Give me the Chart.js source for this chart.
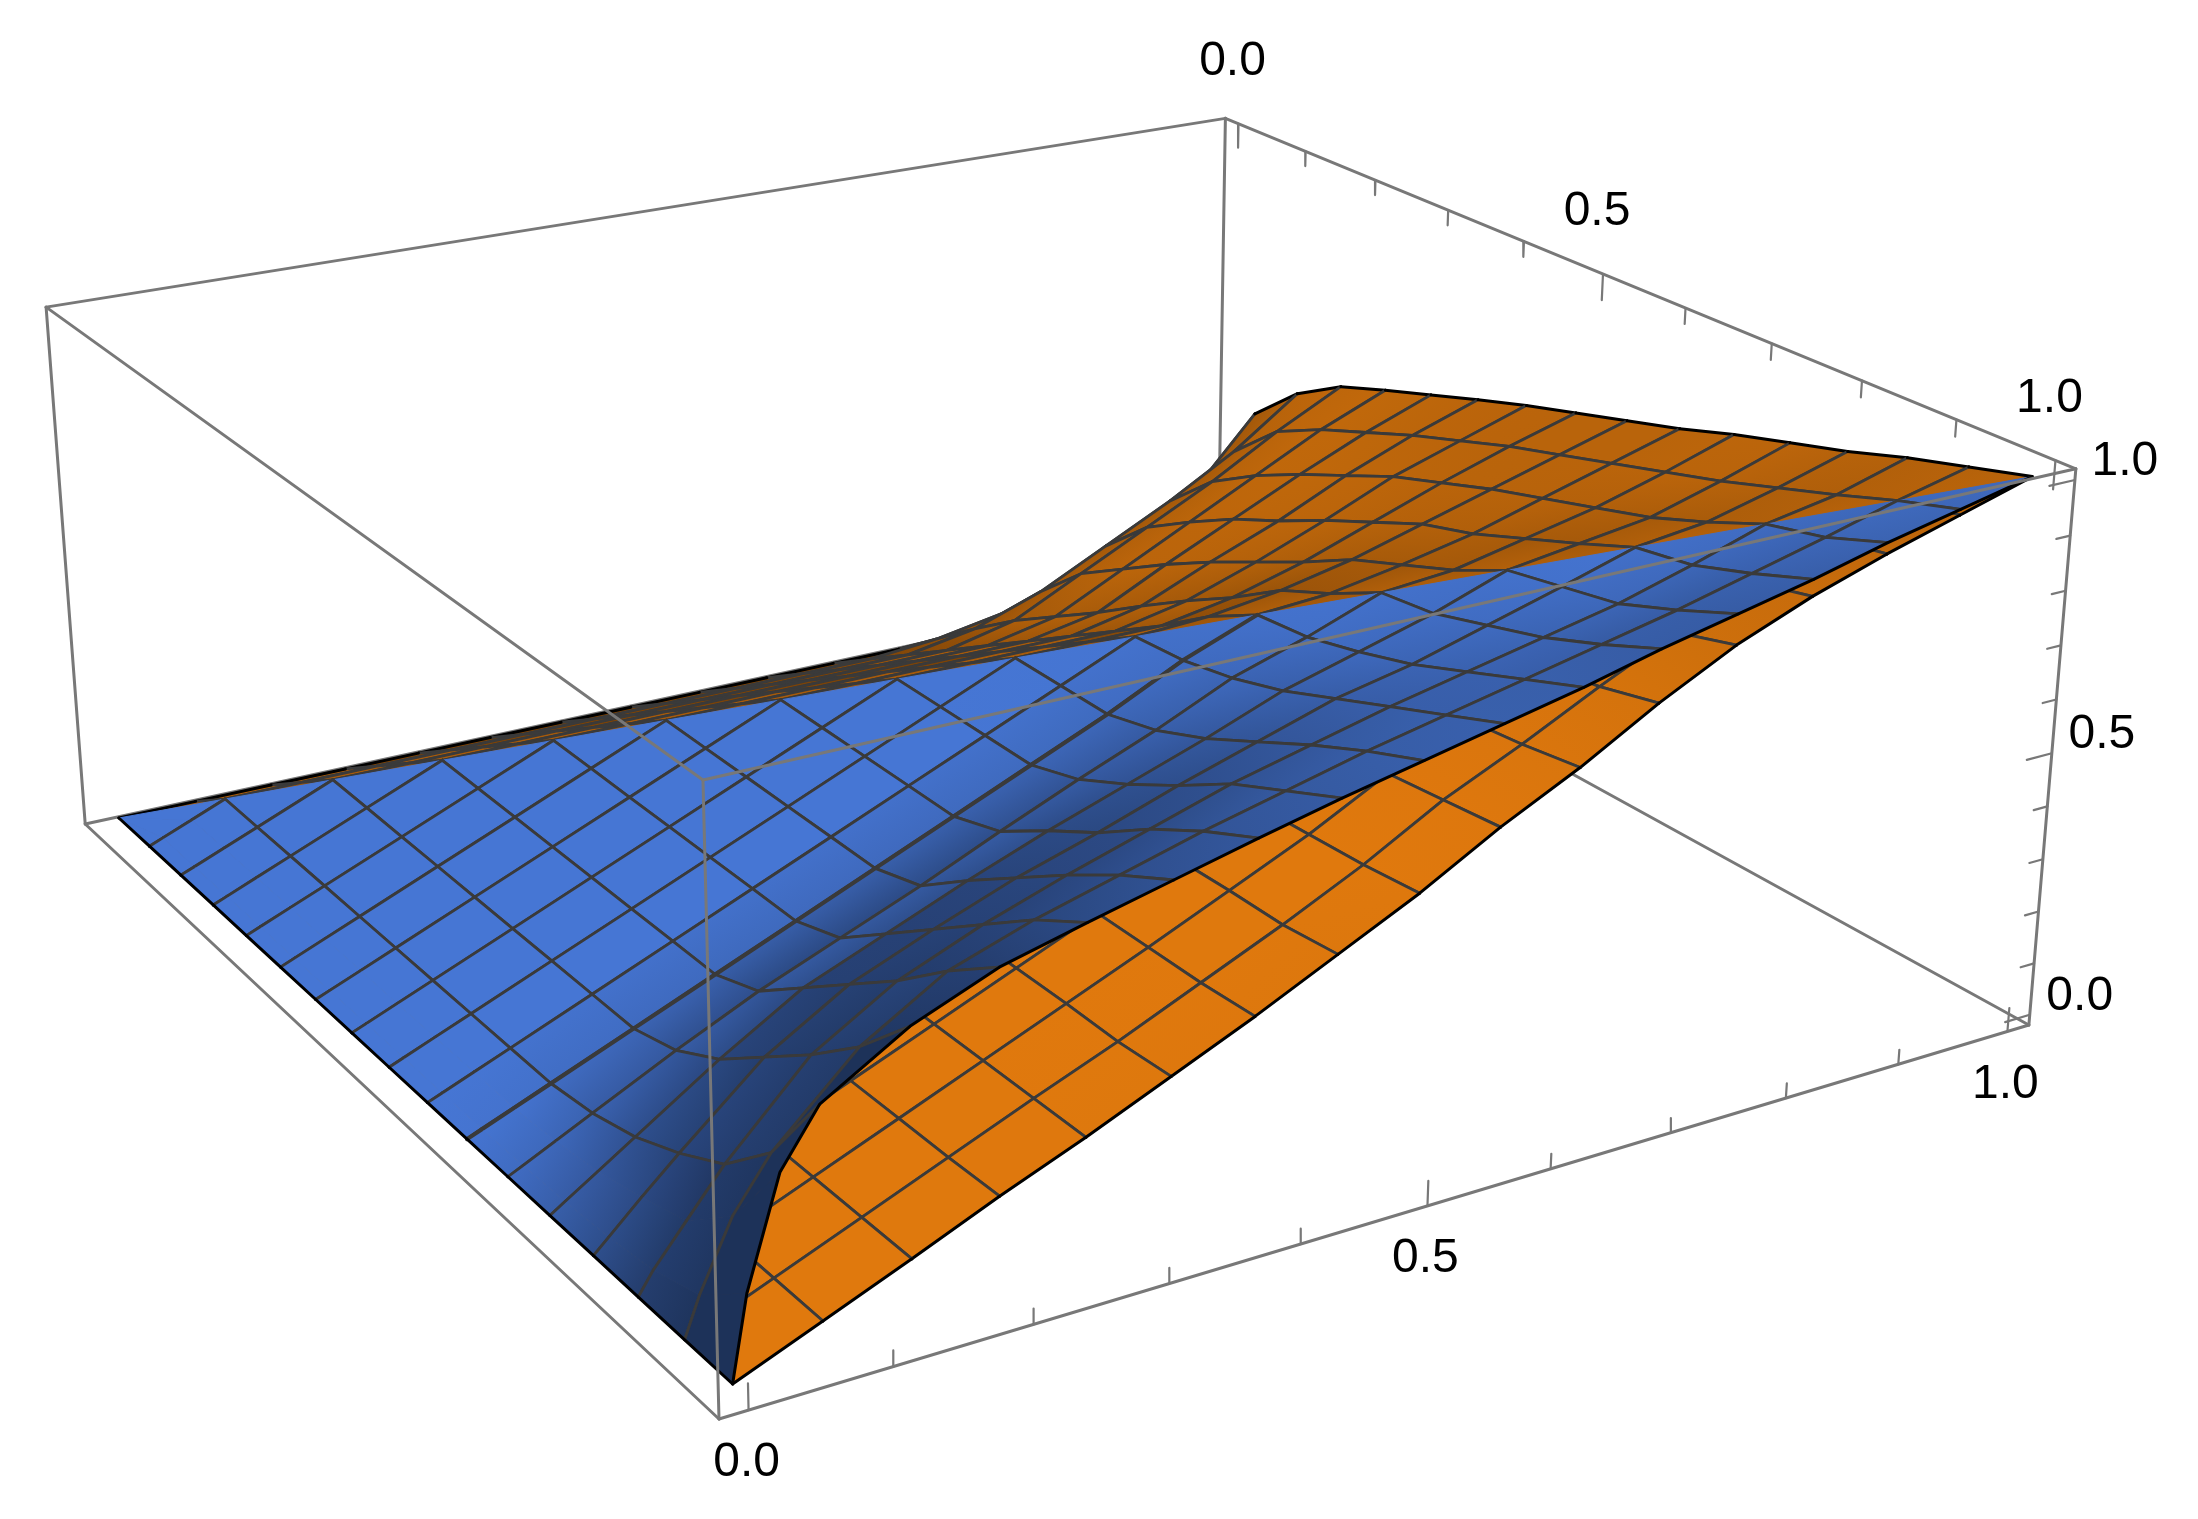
<!DOCTYPE html>
<html><head><meta charset="utf-8">
<style>html,body{margin:0;padding:0;background:#fff}canvas{display:block}</style>
<script src="https://cdn.jsdelivr.net/npm/chart.js@4/dist/chart.umd.min.js"></script>
</head><body><canvas id="c" width="2198" height="1519"></canvas>
<script>
// ---------- data ----------
const tickValues = [0,0.1,0.2,0.3,0.4,0.5,0.6,0.7,0.8,0.9,1];
const labelValues = [0,0.5,1];
const orangeU = [0,.0625,.125,.1875,.25,.3125,.375,.4375,.5,.5625,.625,.6875,.75,.8125,.875,.9375,1];
const surfaceV = [0,.0625,.125,.1875,.25,.3125,.375,.4375,.5,.5625,.625,.6875,.75,.8125,.875,.9375,1];
const blueU = [0,.011,.035,.0625,.125,.1875,.25,.3125,.375,.4375,.5,.5625,.625,.6875,.75,.8125,.875,.9375,1];
const blueZ = [
[0,.147,.335,.43,.52,.58,.617,.652,.687,.72,.75,.78,.81,.845,.875,.905,.94,.97,1],
[0,.07,.19,.28,.42,.51,.56,.60,.64,.675,.71,.74,.77,.80,.83,.865,.90,.9375],
[0,.04,.11,.19,.34,.43,.49,.54,.585,.63,.665,.70,.73,.76,.79,.83,.875],
[0,.025,.08,.14,.27,.36,.42,.475,.52,.57,.615,.66,.69,.73,.77,.8125],
[0,.018,.056,.10,.20,.29,.35,.41,.465,.515,.565,.62,.66,.70,.75],
[0,.013,.042,.075,.15,.22,.28,.34,.405,.467,.525,.59,.635,.6875],
[0,.011,.035,.0625,.125,.1875,.25,.3125,.375,.4375,.5,.57,.625],
[0,.011,.035,.0625,.125,.1875,.25,.3125,.375,.4375,.5,.5625],
[0,.011,.035,.0625,.125,.1875,.25,.3125,.375,.4375,.5],
[0,.011,.035,.0625,.125,.1875,.25,.3125,.375,.4375],
[0,.011,.035,.0625,.125,.1875,.25,.3125,.375],
[0,.011,.035,.0625,.125,.1875,.25,.3125],
[0,.011,.035,.0625,.125,.1875,.25],
[0,.011,.035,.0625,.125,.1875],
[0,.011,.035,.0625,.125],
[0,.011,.035,.0625],
[0,0,0]
];
const orangeZ = [
[0,.0625,.125,.19,.25,.315,.38,.45,.52,.60,.67,.75,.82,.875,.92,.96,1],
[0,.0625,.125,.1875,.25,.31,.375,.44,.51,.59,.655,.725,.79,.85,.90,.9375,.97],
[0,.0625,.125,.1875,.25,.3125,.375,.44,.505,.58,.645,.71,.77,.825,.875,.90,.94],
[0,.0625,.125,.1875,.25,.3125,.375,.4375,.5,.57,.635,.70,.76,.8125,.83,.865,.905],
[0,.0625,.125,.1875,.25,.3125,.375,.4375,.5,.5625,.625,.6875,.75,.77,.79,.83,.875],
[0,.0625,.125,.1875,.25,.3125,.375,.4375,.5,.5625,.625,.6875,.70,.73,.76,.80,.845],
[0,.0625,.125,.1875,.25,.3125,.375,.4375,.5,.5625,.625,.635,.66,.69,.73,.77,.81],
[0,.0625,.125,.1875,.25,.3125,.375,.4375,.5,.5625,.57,.59,.62,.66,.70,.74,.78],
[0,.0625,.125,.1875,.25,.3125,.375,.4375,.5,.5,.5,.525,.565,.615,.665,.71,.75],
[0,.0625,.125,.1875,.25,.3125,.375,.4375,.4375,.4375,.4375,.467,.515,.57,.63,.675,.72],
[0,.0625,.125,.1875,.25,.3125,.375,.375,.375,.375,.375,.405,.465,.52,.585,.64,.687],
[0,.0625,.125,.1875,.25,.3125,.3125,.3125,.3125,.3125,.3125,.34,.41,.475,.54,.60,.652],
[0,.0625,.125,.1875,.25,.25,.25,.25,.25,.25,.25,.28,.35,.42,.49,.56,.617],
[0,.0625,.125,.1875,.1875,.1875,.1875,.1875,.1875,.1875,.1875,.22,.29,.36,.43,.51,.58],
[0,.0625,.125,.125,.125,.125,.125,.125,.125,.125,.125,.15,.20,.27,.34,.42,.52],
[0,.0625,.0625,.0625,.0625,.0625,.0625,.0625,.0625,.0625,.0625,.075,.10,.14,.19,.28,.43],
[0,0,0,0,0,0,0,0,0,0,0,0,0,0,0,0,0]
];

// ---------- camera and styles ----------
const camX=[1671,-609.6,-52.6,719], camY=[-211.5,-361,-679.6,1419], camW=[.178,.284,-.052,1];
const PAD=.02;
const boxS=t=>(t+PAD)/(1+2*PAD);
const depthS=(a,b,c)=>camW[0]*a+camW[1]*b+camW[2]*c+camW[3];
const projS=(a,b,c)=>{const w=depthS(a,b,c);return {x:(camX[0]*a+camX[1]*b+camX[2]*c+camX[3])/w,y:(camY[0]*a+camY[1]*b+camY[2]*c+camY[3])/w};};
const proj=p=>projS(boxS(p[0]),boxS(p[1]),boxS(p[2]));
const GAP={x:NaN,y:NaN};
const BOX='#787878',MESH='#3a3a3a',EDGE='#000000';
const BLUE_LOOK={base:[70,118,212],light:[-.237,-.387,1.177],amb:0,min:.42};
const ORANGE_LOOK={base:[224,121,13],light:[-.38,-.25,0],amb:.73,min:.5};
const CREASE_ROW=6;
const canvas=document.getElementById('c');
const ctx2=canvas.getContext('2d');

function line(list,pts,color,width){list.push({type:'scatter',showLine:true,data:pts,borderColor:color,borderWidth:width,pointRadius:0,fill:false,tension:0,borderCapStyle:'round',borderJoinStyle:'round'});}
function brightness(p,look){
  const n4=p.length===4;
  const a=n4?[p[2][0]-p[0][0],p[2][1]-p[0][1],p[2][2]-p[0][2]]:[p[1][0]-p[0][0],p[1][1]-p[0][1],p[1][2]-p[0][2]];
  const b=n4?[p[3][0]-p[1][0],p[3][1]-p[1][1],p[3][2]-p[1][2]]:[p[2][0]-p[0][0],p[2][1]-p[0][1],p[2][2]-p[0][2]];
  let c=[a[1]*b[2]-a[2]*b[1],a[2]*b[0]-a[0]*b[2],a[0]*b[1]-a[1]*b[0]];
  const l=Math.hypot(c[0],c[1],c[2])||1; c=c.map(v=>v/l); if(c[2]<0)c=c.map(v=>-v);
  const L=look.light;
  return look.amb+c[0]*L[0]+c[1]*L[1]+c[2]*L[2];
}
// node shade = mean of the facets around the node
function nodeShades(cells,look){
  const m=new Map();
  cells.forEach(c=>{const b=brightness(c.poly,look);c.poly.forEach(p=>{const k=p.join('|');const e=m.get(k)||[0,0];e[0]+=b;e[1]++;m.set(k,e);});});
  return p=>{const e=m.get(p.join('|'));return e[0]/e[1];};
}
function rgb(base,b){return `rgb(${base.map(v=>Math.round(v*b)).join(',')})`;}
function paint(poly,pts,shadeAt,look){
  const lim=v=>Math.min(1,Math.max(look.min,v));
  const base=look.base;
  const bs=poly.map(p=>lim(shadeAt(p)));
  let cx=0,cy=0,cb=0;pts.forEach((q,i)=>{cx+=q.x;cy+=q.y;cb+=bs[i];});
  const N=pts.length;cx/=N;cy/=N;cb/=N;
  let sxx=0,sxy=0,syy=0,sxb=0,syb=0,r=1;
  pts.forEach((q,i)=>{const dx=q.x-cx,dy=q.y-cy,db=bs[i]-cb;sxx+=dx*dx;sxy+=dx*dy;syy+=dy*dy;sxb+=dx*db;syb+=dy*db;r=Math.max(r,Math.hypot(dx,dy));});
  const det=sxx*syy-sxy*sxy;
  if(Math.abs(det)<1e-3)return rgb(base,cb);
  const ga=(sxb*syy-syb*sxy)/det,gb=(syb*sxx-sxb*sxy)/det,gl=Math.hypot(ga,gb);
  if(gl*r<.004)return rgb(base,cb);
  const ux=ga/gl,uy=gb/gl;
  const g=ctx2.createLinearGradient(cx-ux*r,cy-uy*r,cx+ux*r,cy+uy*r);
  g.addColorStop(0,rgb(base,lim(cb-gl*r)));g.addColorStop(1,rgb(base,lim(cb+gl*r)));
  return g;
}
const seg=es=>{const o=[];es.forEach(e=>{o.push(proj(e[0]),proj(e[1]),GAP);});return o;};
function toItems(cells,look){
  const at=nodeShades(cells,look);
  return cells.map(c=>{
    const pts=c.poly.map(proj);
    const col=paint(c.poly,pts,at,look);
    const ds=[{type:'scatter',showLine:true,data:pts.concat([pts[0]]),backgroundColor:col,borderColor:col,borderWidth:1,pointRadius:0,fill:'shape',tension:0}];
    if(c.mesh.length)line(ds,seg(c.mesh),MESH,2.8);
    if(c.thick&&c.thick.length)line(ds,seg(c.thick),MESH,4);
    if(c.black.length)line(ds,seg(c.black),EDGE,3);
    const depth=c.poly.reduce((s,p)=>s+depthS(boxS(p[0]),boxS(p[1]),boxS(p[2])),0)/c.poly.length;
    return {depth,ds};
  });
}
// orange sheet
const orangeCells=[];
for(let j=0;j<16;j++)for(let k=0;k<16;k++){
  const P=(kk,jj)=>[orangeU[kk],surfaceV[jj],orangeZ[jj][kk]];
  const a=P(k,j),b=P(k+1,j),c=P(k+1,j+1),d=P(k,j+1);
  const mesh=[],black=[];
  (j===0?black:mesh).push([a,b]); (j+1===16?black:mesh).push([d,c]);
  if(k>0)mesh.push([a,d]); (k+1===16?black:mesh).push([b,c]);
  orangeCells.push({poly:[a,b,c,d],mesh,black});
}
// blue sheet: the part in front of the line where it meets the orange one
const blueCells=[];
for(let j=0;j<16;j++){
  const L=blueZ[j+1].length;
  const P=(i,jj)=>[jj===16?0:blueU[i],surfaceV[jj],blueZ[jj][i]];
  for(let i=0;i<L-1;i++){
    const a=P(i,j),b=P(i+1,j),c=P(i+1,j+1),d=P(i,j+1);
    const mesh=[],thick=[];
    if(j>0)(j===CREASE_ROW?thick:mesh).push([a,b]);
    if(j+1<=15)(j+1===CREASE_ROW?thick:mesh).push([d,c]);
    if(i>=3)mesh.push([a,d]); if(i+1>=3)mesh.push([b,c]);
    blueCells.push({poly:[a,b,c,d],mesh,thick,black:[]});
  }
  const a=P(L-1,j),b=P(L,j),d=P(L-1,j+1);
  const mesh=[]; if(j>0)mesh.push([a,b]); if(L-1>=3)mesh.push([a,d]);
  blueCells.push({poly:[a,b,d],mesh,black:[]});
}
const blueFront=blueZ[0].map((z,i)=>proj([blueU[i],0,z]));
const blueSide=surfaceV.map((v,j)=>proj([0,v,blueZ[j][0]]));

// box
const behind=[],front=[];
const cn=(a,b,c)=>projS(a,b,c);
[[[0,1,0],[1,1,0]],[[1,0,0],[1,1,0]],[[1,1,0],[1,1,1]],[[0,1,1],[1,1,1]],[[1,1,1],[1,0,1]],[[0,1,0],[0,1,1]]]
  .forEach(s=>line(behind,[cn(...s[0]),cn(...s[1])],BOX,3));
[[[0,0,0],[1,0,0]],[[0,0,0],[0,1,0]],[[0,0,0],[0,0,1]],[[0,1,1],[0,0,1]],[[0,0,1],[1,0,1]],[[1,0,0],[1,0,1]]]
  .forEach(s=>line(front,[cn(...s[0]),cn(...s[1])],BOX,3));
// ticks
const isMajor=t=>labelValues.includes(t);
const t1=[],t2=[],t3=[];
tickValues.forEach(t=>{
  const s=boxS(t),M=isMajor(t);
  const lz=M?.044:.027, lu=M?.022:.012;
  t1.push(cn(s,0,0),cn(s,0,lz),GAP);
  t2.push(cn(1,1-s,1),cn(1,1-s,1-(M?.05:.03)),GAP);
  t3.push(cn(1,0,s),cn(1-lu,0,s),GAP);
});
[t1,t2,t3].forEach(t=>line(front,t,BOX,2.2));

const order=a=>a.slice().sort((p,q)=>q.depth-p.depth).flatMap(c=>c.ds);
const drawn=[];
behind.forEach(d=>drawn.push(d));
order(toItems(orangeCells,ORANGE_LOOK)).forEach(d=>drawn.push(d));
order(toItems(blueCells,BLUE_LOOK)).forEach(d=>drawn.push(d));
line(drawn,blueFront,EDGE,3);
line(drawn,blueSide,EDGE,3);
front.forEach(d=>drawn.push(d));
// Chart.js paints the first dataset last
const datasets=drawn.slice().reverse();

const axisLabels={
  id:'axisLabels',
  afterDatasetsDraw(chart){
    const {ctx,scales:{x,y}}=chart;
    ctx.save();
    ctx.font='48px "Liberation Sans"';ctx.fillStyle='#000';ctx.textAlign='center';ctx.textBaseline='middle';
    labelValues.forEach(t=>{
      const s=boxS(t),txt=t.toFixed(1);
      const put=(p,dx,dy)=>ctx.fillText(txt,x.getPixelForValue(p.x+dx),y.getPixelForValue(p.y+dy));
      put(cn(s,0,0),-2,53);
      put(cn(1,1-s,1),-6,-62);
      put(cn(1,0,s),50,-18);
    });
    ctx.restore();
  }
};
new Chart(canvas,{
  type:'scatter',
  data:{datasets},
  plugins:[axisLabels],
  options:{
    responsive:false,animation:false,
    layout:{padding:0},
    plugins:{legend:{display:false},tooltip:{enabled:false},title:{display:false}},
    events:[],
    scales:{
      x:{type:'linear',min:0,max:2198,display:false},
      y:{type:'linear',min:0,max:1519,reverse:true,display:false}
    }
  }
});
</script></body></html>
